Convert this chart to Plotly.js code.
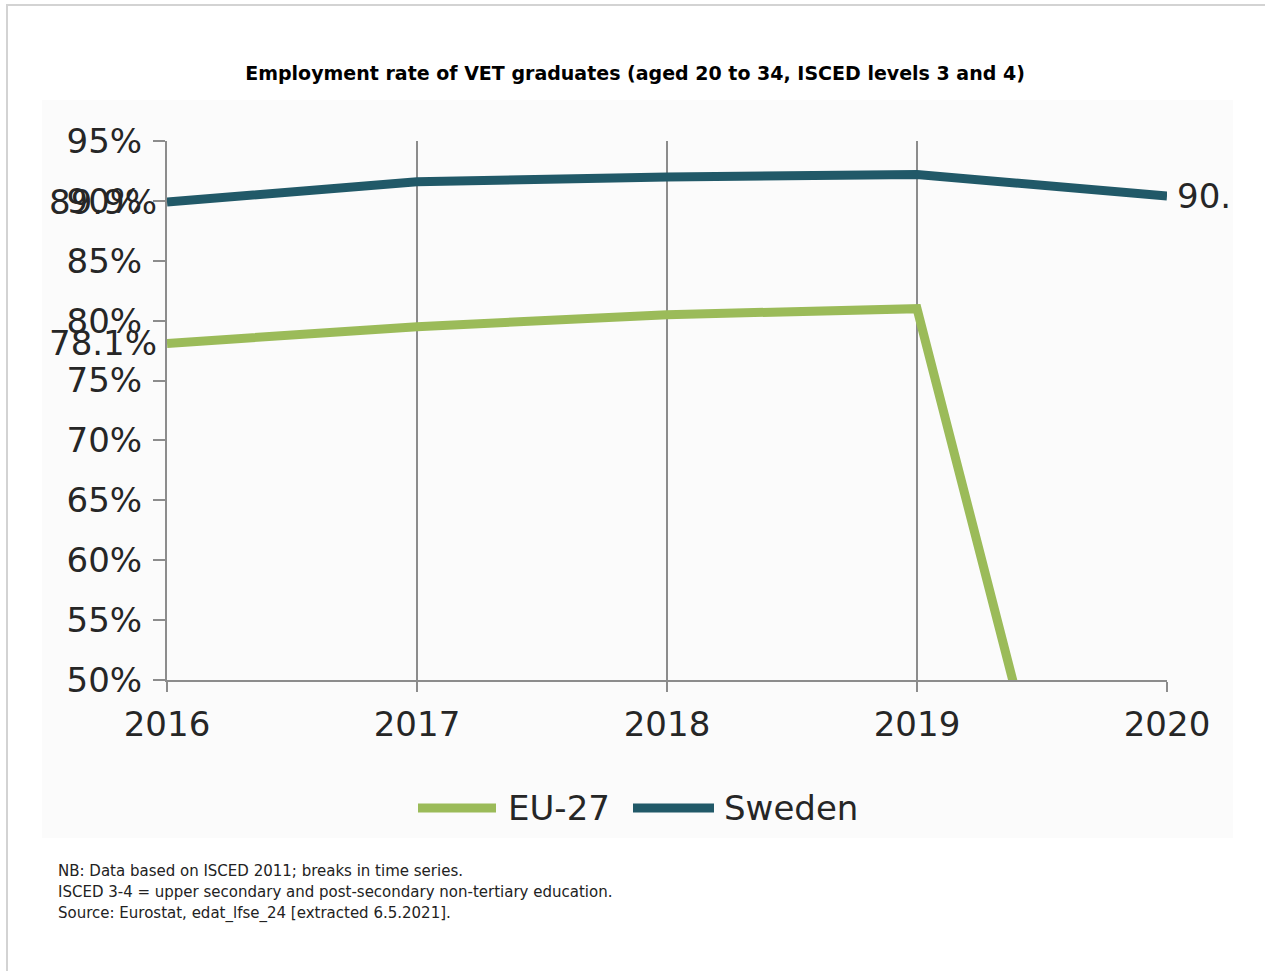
<!DOCTYPE html>
<html>
<head>
<meta charset="utf-8">
<script src="https://cdn.plot.ly/plotly-3.0.1.min.js"></script>
<style>
  html, body { margin: 0; padding: 0; background: #fff; }
  #chart { width: 1265px; height: 971px; }
</style>
</head>
<body>
<div id="chart"></div>
<script>
var years = [2016, 2017, 2018, 2019, 2020];
var eu27 = [78.1, 79.5, 80.5, 81.0, 0];
var sweden = [89.9, 91.6, 92.0, 92.2, 90.4];
var yTicks = [50, 55, 60, 65, 70, 75, 80, 85, 90, 95];
var seriesNames = ['EU-27', 'Sweden'];
var seriesColors = ['#9bbb59', '#215968'];
var notes = [
  'NB: Data based on ISCED 2011; breaks in time series.',
  'ISCED 3-4 = upper secondary and post-secondary non-tertiary education.',
  'Source: Eurostat, edat_lfse_24 [extracted 6.5.2021].'
];

var font = 'DejaVu Sans, Verdana, sans-serif';
var textCol = '#262626';

// pixel helpers for paper coords (plot area 167..1167 x, 141..680 y)
function px(x) { return (x - 167) / 1000; }
function py(y) { return (680 - y) / 539; }

var traces = [
  {
    x: years, y: eu27, type: 'scatter', mode: 'lines', name: seriesNames[0],
    line: {color: seriesColors[0], width: 9}
  },
  {
    x: years, y: sweden, type: 'scatter', mode: 'lines', name: seriesNames[1],
    line: {color: seriesColors[1], width: 9}
  }
];

var shapes = [
  {
    type: 'rect', xref: 'paper', yref: 'paper', layer: 'below',
    x0: px(7), x1: px(1300), y0: py(1000), y1: py(5),
    line: {color: '#d3d3d3', width: 2}, fillcolor: '#ffffff'
  },
  {
    type: 'rect', xref: 'paper', yref: 'paper', layer: 'below',
    x0: px(42), x1: px(1233), y0: py(838), y1: py(100),
    line: {width: 0}, fillcolor: '#fbfbfb'
  },
  // legend swatches
  {
    type: 'line', xref: 'paper', yref: 'paper',
    x0: px(418), x1: px(496), y0: py(808), y1: py(808),
    line: {color: seriesColors[0], width: 9}
  },
  {
    type: 'line', xref: 'paper', yref: 'paper',
    x0: px(633), x1: px(714), y0: py(808), y1: py(808),
    line: {color: seriesColors[1], width: 9}
  }
];

var annotations = [
  {
    xref: 'x', yref: 'y', x: years[0], y: eu27[0],
    text: eu27[0].toFixed(1) + '%', showarrow: false,
    xanchor: 'right', yanchor: 'middle', xshift: -8,
    font: {family: font, size: 34, color: textCol}
  },
  {
    xref: 'x', yref: 'y', x: years[0], y: sweden[0],
    text: sweden[0].toFixed(1) + '%', showarrow: false,
    xanchor: 'right', yanchor: 'middle', xshift: -8,
    font: {family: font, size: 34, color: textCol}
  },
  {
    xref: 'x', yref: 'y', x: years[4], y: sweden[4],
    text: '90.', showarrow: false,
    xanchor: 'left', yanchor: 'middle', xshift: 8,
    font: {family: font, size: 34, color: textCol}
  },
  {
    xref: 'paper', yref: 'paper', x: px(506), y: py(808),
    text: seriesNames[0], showarrow: false, xanchor: 'left', yanchor: 'middle',
    font: {family: font, size: 34, color: textCol}
  },
  {
    xref: 'paper', yref: 'paper', x: px(722), y: py(808),
    text: seriesNames[1], showarrow: false, xanchor: 'left', yanchor: 'middle',
    font: {family: font, size: 34, color: textCol}
  }
];

var noteY = [871, 892, 913];
notes.forEach(function (t, i) {
  annotations.push({
    xref: 'paper', yref: 'paper', x: px(56), y: py(noteY[i]),
    xanchor: 'left', yanchor: 'middle', align: 'left', showarrow: false,
    text: t, font: {family: font, size: 15, color: '#222'}
  });
});

var layout = {
  width: 1265,
  height: 971,
  margin: {l: 167, r: 98, t: 141, b: 291},
  paper_bgcolor: '#ffffff',
  plot_bgcolor: 'rgba(0,0,0,0)',
  font: {family: font, color: textCol},
  title: {
    text: '<b>Employment rate of VET graduates (aged 20 to 34, ISCED levels 3 and 4)</b>',
    font: {family: font, size: 19, color: '#000'},
    xref: 'container', x: 0.502,
    yref: 'container', y: 1 - 73 / 971, yanchor: 'middle'
  },
  xaxis: {
    range: [2016, 2020],
    tickvals: years,
    ticktext: years.map(String),
    showgrid: true, gridcolor: '#8c8c8c', gridwidth: 2,
    showline: true, linecolor: '#8c8c8c', linewidth: 2,
    ticks: 'outside', ticklen: 10, tickwidth: 2, tickcolor: '#8c8c8c',
    ticklabelstandoff: 3,
    tickfont: {family: font, size: 34, color: textCol},
    zeroline: false, fixedrange: true
  },
  yaxis: {
    range: [50, 95],
    tickvals: yTicks,
    ticktext: yTicks.map(function (v) { return v + '%'; }),
    showgrid: false,
    showline: true, linecolor: '#8c8c8c', linewidth: 2,
    ticks: 'outside', ticklen: 12, tickwidth: 2, tickcolor: '#8c8c8c',
    ticklabelstandoff: 4,
    tickfont: {family: font, size: 34, color: textCol},
    zeroline: false, fixedrange: true
  },
  showlegend: false,
  shapes: shapes,
  annotations: annotations
};

Plotly.newPlot('chart', traces, layout, {staticPlot: true, displayModeBar: false});
</script>
</body>
</html>
